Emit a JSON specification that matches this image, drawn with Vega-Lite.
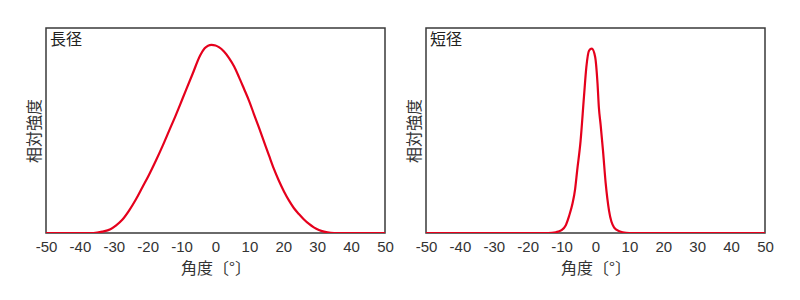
{
  "$schema": "https://vega.github.io/schema/vega-lite/v6.json",
  "background": "white",
  "padding": {"left": 25, "top": 27, "right": 5, "bottom": 5},
  "spacing": 10,
  "config": {
    "view": {"stroke": "#3a3a3a", "strokeWidth": 1.5},
    "font": "Noto Sans CJK JP",
    "axis": {"grid": false, "ticks": false, "domain": false}
  },
  "datasets": {
    "long": [
      {"angle": -50, "intensity": 0}, {"angle": -40, "intensity": 0}, {"angle": -36, "intensity": 0},
      {"angle": -33.4, "intensity": 0.007}, {"angle": -31, "intensity": 0.02}, {"angle": -29.4, "intensity": 0.039},
      {"angle": -27.5, "intensity": 0.07}, {"angle": -25.5, "intensity": 0.119}, {"angle": -23.5, "intensity": 0.178},
      {"angle": -21.6, "intensity": 0.242}, {"angle": -19.6, "intensity": 0.31}, {"angle": -17.6, "intensity": 0.384},
      {"angle": -15.6, "intensity": 0.463}, {"angle": -13.7, "intensity": 0.543}, {"angle": -11.7, "intensity": 0.627},
      {"angle": -9.8, "intensity": 0.711}, {"angle": -6.8, "intensity": 0.844}, {"angle": -4.5, "intensity": 0.945},
      {"angle": -3.2, "intensity": 0.982}, {"angle": -2.2, "intensity": 0.996}, {"angle": -1.2, "intensity": 1.0},
      {"angle": 0, "intensity": 0.997}, {"angle": 1.0, "intensity": 0.988}, {"angle": 2.5, "intensity": 0.965},
      {"angle": 4.0, "intensity": 0.93}, {"angle": 5.5, "intensity": 0.885}, {"angle": 6.9, "intensity": 0.83},
      {"angle": 8.4, "intensity": 0.767}, {"angle": 9.9, "intensity": 0.703}, {"angle": 11.3, "intensity": 0.634},
      {"angle": 12.8, "intensity": 0.561}, {"angle": 14.3, "intensity": 0.486}, {"angle": 15.8, "intensity": 0.411},
      {"angle": 17.2, "intensity": 0.342}, {"angle": 18.7, "intensity": 0.278}, {"angle": 20.2, "intensity": 0.221},
      {"angle": 21.7, "intensity": 0.172}, {"angle": 23.1, "intensity": 0.133}, {"angle": 24.6, "intensity": 0.101},
      {"angle": 26.1, "intensity": 0.072}, {"angle": 27.6, "intensity": 0.048}, {"angle": 29, "intensity": 0.03},
      {"angle": 30.5, "intensity": 0.016}, {"angle": 32, "intensity": 0.007}, {"angle": 34, "intensity": 0.001},
      {"angle": 36, "intensity": 0}, {"angle": 40, "intensity": 0}, {"angle": 50, "intensity": 0}
    ],
    "short": [
      {"angle": -50, "intensity": 0}, {"angle": -20, "intensity": 0}, {"angle": -14, "intensity": 0},
      {"angle": -11.7, "intensity": 0.004}, {"angle": -10, "intensity": 0.015}, {"angle": -8.8, "intensity": 0.04},
      {"angle": -7.8, "intensity": 0.09}, {"angle": -6.8, "intensity": 0.155}, {"angle": -6, "intensity": 0.235},
      {"angle": -5.4, "intensity": 0.333}, {"angle": -4.4, "intensity": 0.49}, {"angle": -3.4, "intensity": 0.725},
      {"angle": -2.7, "intensity": 0.882}, {"angle": -1.9, "intensity": 0.97}, {"angle": -1.1, "intensity": 0.98},
      {"angle": -0.1, "intensity": 0.936}, {"angle": 0.6, "intensity": 0.794}, {"angle": 1.0, "intensity": 0.666},
      {"angle": 1.5, "intensity": 0.578}, {"angle": 2.2, "intensity": 0.441}, {"angle": 3.0, "intensity": 0.265},
      {"angle": 4.0, "intensity": 0.118}, {"angle": 5.5, "intensity": 0.029}, {"angle": 7, "intensity": 0.01},
      {"angle": 8, "intensity": 0.004}, {"angle": 10, "intensity": 0}, {"angle": 20, "intensity": 0},
      {"angle": 50, "intensity": 0}
    ],
    "labels": [{"label": "長径"}],
    "labels2": [{"label": "短径"}]
  },
  "hconcat": [
    {
      "width": 339,
      "height": 205,
      "layer": [
        {
          "data": {"name": "long"},
          "mark": {"type": "line", "color": "#e5001c", "strokeWidth": 2.2, "interpolate": "monotone", "clip": true},
          "encoding": {
            "x": {"field": "angle", "type": "quantitative", "scale": {"domain": [-50, 50], "nice": false},
              "axis": {"values": [-50, -40, -30, -20, -10, 0, 10, 20, 30, 40, 50], "tickCount": 11, "labelExpr": "'' + datum.value", "labelFont": "Liberation Sans", "labelFontSize": 15, "labelColor": "#333", "labelPadding": 6, "labelFlush": false, "labelOverlap": false, "title": "角度〔°〕", "titleFontSize": 16, "titleFontWeight": "normal", "titleColor": "#333", "titlePadding": 6}},
            "y": {"field": "intensity", "type": "quantitative", "scale": {"domain": [0, 1.09], "nice": false},
              "axis": {"labels": false, "title": "相対強度", "titleFontSize": 16, "titleFontWeight": "normal", "titleColor": "#333", "titlePadding": 4}}
          }
        },
        {
          "data": {"name": "labels"},
          "mark": {"type": "text", "align": "left", "baseline": "top", "dx": 4, "dy": 4, "fontSize": 16, "color": "#222", "font": "Noto Sans CJK JP"},
          "encoding": {
            "x": {"datum": -50, "type": "quantitative"},
            "y": {"datum": 1.09, "type": "quantitative"},
            "text": {"field": "label"}
          }
        }
      ]
    },
    {
      "width": 339,
      "height": 205,
      "layer": [
        {
          "data": {"name": "short"},
          "mark": {"type": "line", "color": "#e5001c", "strokeWidth": 2.2, "interpolate": "monotone", "clip": true},
          "encoding": {
            "x": {"field": "angle", "type": "quantitative", "scale": {"domain": [-50, 50], "nice": false},
              "axis": {"values": [-50, -40, -30, -20, -10, 0, 10, 20, 30, 40, 50], "tickCount": 11, "labelExpr": "'' + datum.value", "labelFont": "Liberation Sans", "labelFontSize": 15, "labelColor": "#333", "labelPadding": 6, "labelFlush": false, "labelOverlap": false, "title": "角度〔°〕", "titleFontSize": 16, "titleFontWeight": "normal", "titleColor": "#333", "titlePadding": 6}},
            "y": {"field": "intensity", "type": "quantitative", "scale": {"domain": [0, 1.09], "nice": false},
              "axis": {"labels": false, "title": "相対強度", "titleFontSize": 16, "titleFontWeight": "normal", "titleColor": "#333", "titlePadding": 4}}
          }
        },
        {
          "data": {"name": "labels2"},
          "mark": {"type": "text", "align": "left", "baseline": "top", "dx": 4, "dy": 4, "fontSize": 16, "color": "#222", "font": "Noto Sans CJK JP"},
          "encoding": {
            "x": {"datum": -50, "type": "quantitative"},
            "y": {"datum": 1.09, "type": "quantitative"},
            "text": {"field": "label"}
          }
        }
      ]
    }
  ]
}
